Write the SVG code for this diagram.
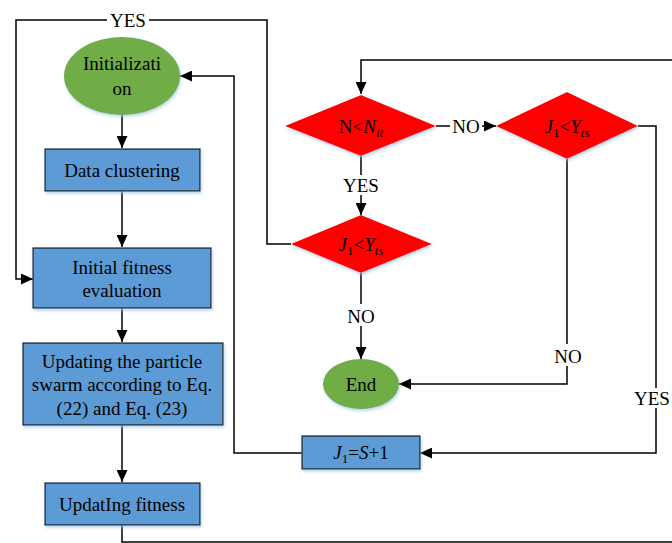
<svg xmlns="http://www.w3.org/2000/svg" width="672" height="543" viewBox="0 0 672 543">
<defs>
<marker id="arr" markerUnits="userSpaceOnUse" markerWidth="13" markerHeight="11" refX="12" refY="5.5" orient="auto">
<path d="M0,0 L12,5.5 L0,11 Z" fill="#000"/>
</marker>
<filter id="sh" x="-20%" y="-20%" width="140%" height="140%">
<feDropShadow dx="1" dy="2" stdDeviation="1.5" flood-color="#9dc3e6" flood-opacity="0.7"/>
</filter>
</defs>
<style>
text{font-family:"Liberation Serif","Times New Roman",serif;font-size:19px;fill:#000;text-anchor:middle}
.rect{fill:#5b9bd5;stroke:#1a1a1a;stroke-width:1.2;filter:url(#sh)}
.ell{fill:#70ad47;filter:url(#sh)}
.dia{fill:#ff0000;filter:url(#sh)}
.c{fill:none;stroke:#000;stroke-width:1.5}
.a{marker-end:url(#arr)}
.bg{fill:#fff}
.i{font-style:italic}
.sub{font-size:13px}
</style>
<g id="connectors">
<path class="c a" d="M122,115 V148"/>
<path class="c a" d="M122,191 V247"/>
<path class="c a" d="M122,308 V342"/>
<path class="c a" d="M122,425 V482"/>
<path class="c" d="M122,525 V542 H680"/>
<path class="c a" d="M680,60 H361 V94"/>
<path class="c a" d="M361,156 V215"/>
<path class="c a" d="M436,126 H496"/>
<path class="c a" d="M291,244 H267 V20 H16 V279 H33"/>
<path class="c a" d="M361,273 V359"/>
<path class="c a" d="M567,159 V384 H399"/>
<path class="c a" d="M638,126 H656 V453 H420"/>
<path class="c a" d="M302,453 H234 V76 H180"/>
<rect class="bg" x="107" y="10" width="42" height="20"/>
<text x="128" y="27">YES</text>
<rect class="bg" x="340" y="175" width="42" height="20"/>
<text x="361" y="192">YES</text>
<rect class="bg" x="450" y="116" width="32" height="20"/>
<text x="466" y="133">NO</text>
<rect class="bg" x="345" y="304" width="32" height="22"/>
<text x="361" y="323">NO</text>
<rect class="bg" x="552" y="344" width="32" height="22"/>
<text x="568" y="363">NO</text>
<rect class="bg" x="632" y="388" width="40" height="20"/>
<text x="652" y="405">YES</text>
</g>
<g id="init">
<ellipse class="ell" cx="122" cy="76" rx="58" ry="39"/>
<text x="122" y="70">Initializati</text>
<text x="122" y="95">on</text>
</g>
<g id="cluster">
<rect class="rect" x="45" y="149" width="155" height="42"/>
<text x="122" y="177">Data clustering</text>
</g>
<g id="initfit">
<rect class="rect" x="33" y="248" width="178" height="60"/>
<text x="122" y="274">Initial fitness</text>
<text x="122" y="297">evaluation</text>
</g>
<g id="updswarm">
<rect class="rect" x="23" y="343" width="200" height="82"/>
<text x="122" y="368">Updating the particle</text>
<text x="122" y="391">swarm according to Eq.</text>
<text x="122" y="415">(22) and Eq. (23)</text>
</g>
<g id="updfit">
<rect class="rect" x="45" y="483" width="155" height="42"/>
<text x="122" y="511">UpdatIng fitness</text>
</g>
<g id="d1">
<polygon class="dia" points="285,126 361,95 436,126 361,156"/>
<text x="361" y="133">N&lt;<tspan class="i">N</tspan><tspan class="i sub" dy="4">it</tspan></text>
</g>
<g id="d2">
<polygon class="dia" points="496,126 567,92 638,126 567,159"/>
<text x="567" y="133"><tspan class="i">J</tspan><tspan class="sub" dy="4">1</tspan><tspan dy="-4">&lt;</tspan><tspan class="i">Y</tspan><tspan class="i sub" dy="4">ts</tspan></text>
</g>
<g id="d3">
<polygon class="dia" points="291,244 361,215 432,244 361,273"/>
<text x="361" y="251"><tspan class="i">J</tspan><tspan class="sub" dy="4">1</tspan><tspan dy="-4">&lt;</tspan><tspan class="i">Y</tspan><tspan class="i sub" dy="4">ts</tspan></text>
</g>
<g id="end">
<ellipse class="ell" cx="361" cy="384" rx="38" ry="25"/>
<text x="361" y="391">End</text>
</g>
<g id="j1box">
<rect class="rect" x="302" y="436" width="118" height="33"/>
<text x="361" y="459"><tspan class="i">J</tspan><tspan class="sub" dy="4">1</tspan><tspan dy="-4">=</tspan><tspan class="i">S</tspan>+1</text>
</g>
</svg>
